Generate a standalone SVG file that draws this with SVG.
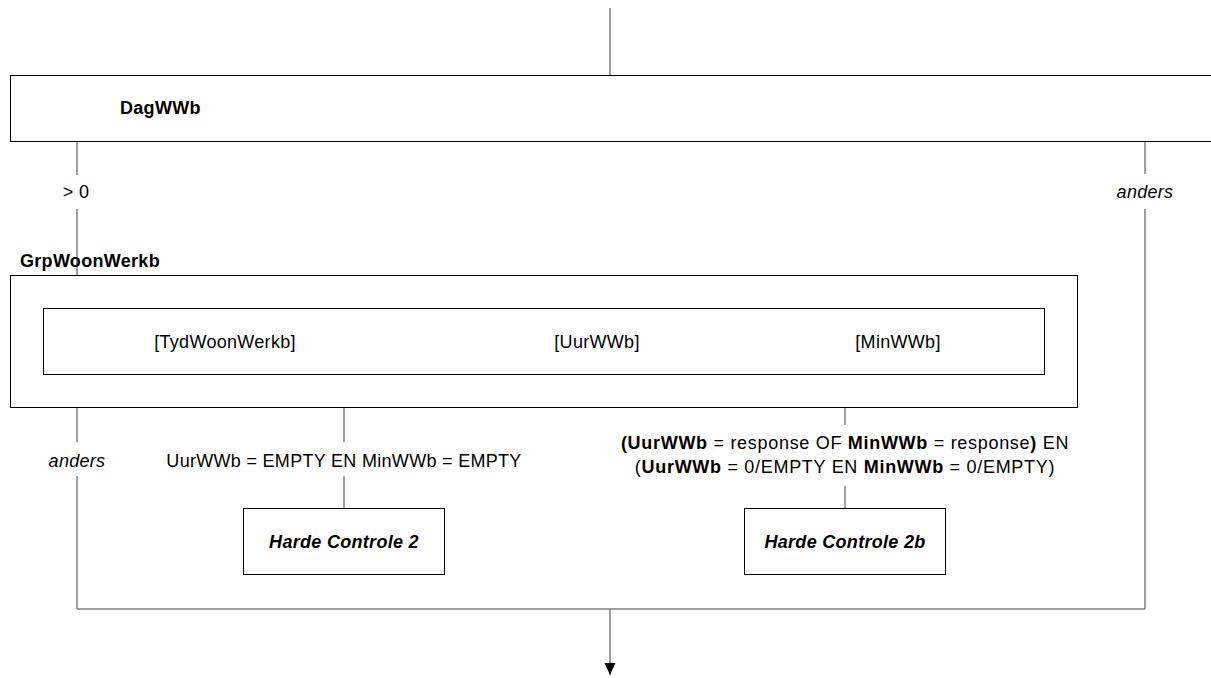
<svg xmlns="http://www.w3.org/2000/svg" width="1211" height="678" viewBox="0 0 1211 678">
<defs>
<style>
text{font-family:"Liberation Sans",Arial,sans-serif;font-size:18px;letter-spacing:0.3px;fill:#000}
.b{font-weight:bold}
.i{font-style:italic}
.m{text-anchor:middle}
.w{letter-spacing:0.7px}
.box{fill:#fff;stroke:#000;stroke-width:1}
.c{fill:none;stroke:#808080;stroke-width:1.5}
</style>
<marker id="ah" viewBox="0 0 12 12" markerWidth="12" markerHeight="12" refX="12" refY="6" orient="auto" markerUnits="userSpaceOnUse">
<path d="M0,0.5 L12,6 L0,11.5 Z" fill="#000"/>
</marker>
</defs>
<rect width="1211" height="678" fill="#fff"/>
<g id="connectors">
<line class="c" x1="610" y1="8" x2="610" y2="75"/>
<line class="c" x1="77" y1="142" x2="77" y2="175"/>
<line class="c" x1="77" y1="209" x2="77" y2="275"/>
<line class="c" x1="1145" y1="142" x2="1145" y2="174"/>
<line class="c" x1="1145" y1="209" x2="1145" y2="609"/>
<line class="c" x1="77" y1="408" x2="77" y2="442"/>
<line class="c" x1="77" y1="476" x2="77" y2="609"/>
<line class="c" x1="344" y1="408" x2="344" y2="442"/>
<line class="c" x1="344" y1="476" x2="344" y2="508"/>
<line class="c" x1="845" y1="408" x2="845" y2="425"/>
<line class="c" x1="845" y1="486" x2="845" y2="508"/>
<line class="c" x1="77" y1="609" x2="1145" y2="609"/>
<line class="c" x1="610" y1="609" x2="610" y2="675" marker-end="url(#ah)"/>
<text x="76" y="198" class="m">&gt; 0</text>
<text x="1145" y="198" class="m i">anders</text>
<text x="77" y="467" class="m i">anders</text>
<text x="344" y="467" class="m">UurWWb = EMPTY EN MinWWb = EMPTY</text>
<text x="845" y="449" class="m w"><tspan class="b">(UurWWb</tspan> = response OF <tspan class="b">MinWWb</tspan> = response<tspan class="b">)</tspan> EN</text>
<text x="845" y="473" class="m w">(<tspan class="b">UurWWb</tspan> = 0/EMPTY EN <tspan class="b">MinWWb</tspan> = 0/EMPTY)</text>
</g>
<g id="DagWWb">
<rect class="box" x="10.5" y="75.5" width="1210" height="66"/>
<text x="120" y="114" class="b">DagWWb</text>
</g>
<g id="GrpWoonWerkb">
<text x="20" y="267" class="b">GrpWoonWerkb</text>
<rect class="box" x="10.5" y="275.5" width="1067" height="132"/>
<rect class="box" x="43.5" y="308.5" width="1001" height="66"/>
<text x="225" y="348" class="m">[TydWoonWerkb]</text>
<text x="597" y="348" class="m">[UurWWb]</text>
<text x="898" y="348" class="m">[MinWWb]</text>
</g>
<g id="HardeControle2">
<rect class="box" x="243.5" y="508.5" width="201" height="66"/>
<text x="344" y="548" class="m b i">Harde Controle 2</text>
</g>
<g id="HardeControle2b">
<rect class="box" x="744.5" y="508.5" width="201" height="66"/>
<text x="845" y="548" class="m b i">Harde Controle 2b</text>
</g>
</svg>
